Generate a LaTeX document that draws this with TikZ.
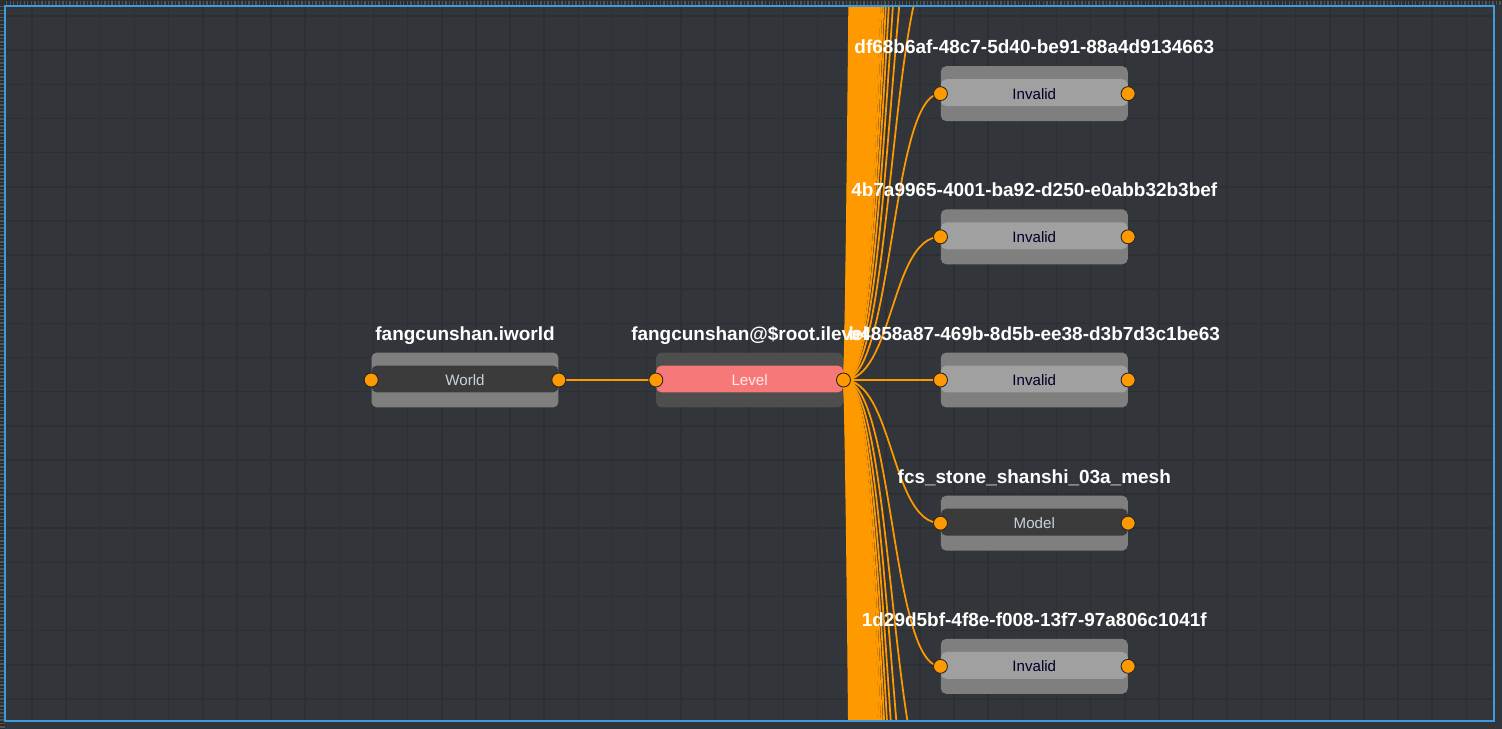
\documentclass[tikz,border=0pt]{standalone}
\usepackage{fontspec}
\setmainfont{Liberation Sans}
\usepackage{tikz}
\usetikzlibrary{positioning, backgrounds}
\definecolor{canvasbg}{HTML}{32363A}
\definecolor{stripbg}{HTML}{2B2E31}
\definecolor{gridln}{HTML}{2C2F33}
\definecolor{frameblue}{HTML}{3D9BE0}
\definecolor{wireorange}{HTML}{FF9900}
\definecolor{bandgray}{HTML}{7F7F7F}
\definecolor{darkmid}{HTML}{3B3B3B}
\definecolor{levelband}{HTML}{4E4E4E}
\definecolor{levelred}{HTML}{F77878}
\definecolor{invalidmid}{HTML}{A0A0A0}
\definecolor{lighttxt}{HTML}{C8D2DC}
\tikzset{
    nodebox/.style 2 args={rectangle, rounded corners=0.11cm, fill=#1,
                   minimum width=3.74cm, minimum height=1.1cm, inner sep=0pt,
                   font=\fontsize{8.6}{10}\selectfont,
                   path picture={\fill[#2] ([yshift=-0.26cm]path picture bounding box.north west)
                       rectangle ([yshift=0.3cm]path picture bounding box.south east);}},
    worldbox/.style={nodebox={bandgray}{darkmid}, text=lighttxt},
    levelbox/.style={nodebox={levelband}{levelred}, text=red!8},
    invalidbox/.style={nodebox={bandgray}{invalidmid}, text=black!85!blue},
    modelbox/.style={nodebox={bandgray}{darkmid}, text=lighttxt},
    port/.style={circle, fill=wireorange, draw=black!85, line width=0.5pt,
                 minimum size=0.28cm, inner sep=0pt},
    title/.style={font=\bfseries\fontsize{10.8}{12}\selectfont, text=white, inner sep=0pt},
    wire/.style={draw=wireorange, line width=1pt},
    ruler/.style={draw=gray!45!stripbg, line width=2.5pt, dash pattern=on 0.8pt off 1.2pt},
}
\begin{document}
\begin{tikzpicture}[x=0.02cm, y=-0.02cm]
    \useasboundingbox (0,0) rectangle (1502,729);
    % canvas and grid
    \begin{scope}[on background layer]
        \fill[canvasbg] (0,0) rectangle (1502,729);
        \fill[stripbg] (0,0) rectangle (1502,6);
        \fill[stripbg] (0,0) rectangle (5,729);
        \draw[ruler] (6,3) -- (1502,3);
        \draw[ruler] (2.5,6) -- (2.5,729);
        \begin{scope}
            \clip (5,6) rectangle (1494,721);
            \foreach \gx in {0,...,43}
                \draw[gridln, line width=0.9pt] ({32+34.15*\gx},6) -- ++(0,715);
            \foreach \gy in {0,...,20}
                \draw[gridln, line width=0.9pt] (5,{16+34.15*\gy}) -- ++(1489,0);
        \end{scope}
    \end{scope}

    % nodes
    \node[worldbox] (wld) at (465,380) {World};
    \node[levelbox, right=1.94cm of wld] (lvl) {Level};
    \node[invalidbox, right=1.94cm of lvl] (inv3) {Invalid};
    \node[invalidbox, above=1.75cm of inv3] (inv2) {Invalid};
    \node[invalidbox, above=1.75cm of inv2] (inv1) {Invalid};
    \node[modelbox, below=1.75cm of inv3] (mdl) {Model};
    \node[invalidbox, below=1.75cm of mdl] (inv5) {Invalid};
    \foreach \n in {wld,lvl,inv1,inv2,inv3,mdl,inv5} {
        \node[port] (\n-l) at (\n.west) {};
        \node[port] (\n-r) at (\n.east) {};
    }

    % titles
    \node[title, above=0.24cm of wld, anchor=base] (wld-t) {fangcunshan.iworld};
    \node[title, above=0.24cm of lvl, anchor=base] (lvl-t) {fangcunshan@\$root.ilevel};
    \node[title, above=0.24cm of inv1, anchor=base] (inv1-t) {df68b6af-48c7-5d40-be91-88a4d9134663};
    \node[title, above=0.24cm of inv2, anchor=base] (inv2-t) {4b7a9965-4001-ba92-d250-e0abb32b3bef};
    \node[title, above=0.24cm of inv3, anchor=base] (inv3-t) {b4858a87-469b-8d5b-ee38-d3b7d3c1be63};
    \node[title, above=0.24cm of mdl, anchor=base] (mdl-t) {fcs\_stone\_shanshi\_03a\_mesh};
    \node[title, above=0.24cm of inv5, anchor=base] (inv5-t) {1d29d5bf-4f8e-f008-13f7-97a806c1041f};

    % wires, under the nodes
    \begin{scope}[on background layer]
        \clip (5,6) rectangle (1494,721);
        \draw[wire] (wld-r.center) -- (lvl-l.center);
        \foreach \n in {inv1,inv2,inv3,mdl,inv5}
            \draw[wire] (lvl-r.center) .. controls +(50,0) and +(-50,0) .. (\n-l.center);
        % children further up and down the column
        \foreach \k in {3,...,105} {
            \coordinate (up\k) at (940,{380-142.5*\k});
            \coordinate (dn\k) at (940,{380+142.5*\k});
            \draw[wire] (lvl-r.center) .. controls +(50,0) and +(-50,0) .. (up\k);
            \draw[wire] (lvl-r.center) .. controls +(50,0) and +(-50,0) .. (dn\k);
        }
        \foreach \h in {16,19,...,49} {
            \draw[wire] (lvl-r.center) .. controls +(\h,0) and +(-\h,0) .. (up105);
            \draw[wire] (lvl-r.center) .. controls +(\h,0) and +(-\h,0) .. (dn105);
        }
    \end{scope}

    \draw[frameblue, line width=0.8pt] (5,6) rectangle (1494,721);
\end{tikzpicture}
\end{document}
